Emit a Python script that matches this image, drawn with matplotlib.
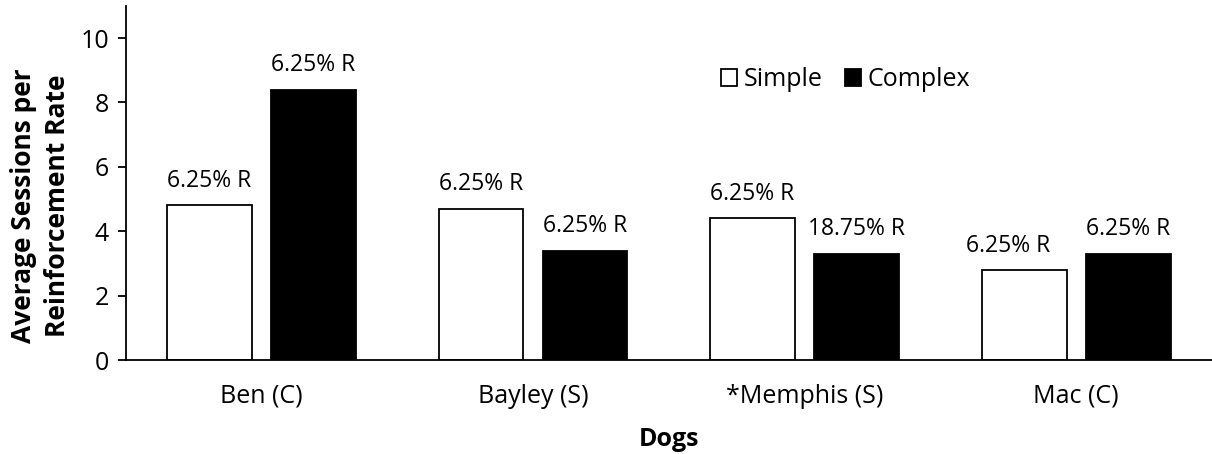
import matplotlib
matplotlib.use("Agg")
import matplotlib.pyplot as plt
import numpy as np

dogs = ["Ben (C)", "Bayley (S)", "*Memphis (S)", "Mac (C)"]
simple = [4.8, 4.7, 4.4, 2.8]
complex_ = [8.4, 3.4, 3.3, 3.3]
simple_labels = ["6.25% R", "6.25% R", "6.25% R", "6.25% R"]
complex_labels = ["6.25% R", "6.25% R", "18.75% R", "6.25% R"]

plt.rcParams['font.family'] = ['Open Sans', 'DejaVu Sans']

fig = plt.figure(figsize=(12.12, 4.54), dpi=100)
ax = fig.add_axes([0.1037, 0.207, 0.8963, 0.780])

x = np.arange(len(dogs))
w = 0.312
off = 0.1915
b1 = ax.bar(x - off, simple, w, color='white', edgecolor='black', linewidth=1.3, label='Simple')
b2 = ax.bar(x + off, complex_, w, color='black', edgecolor='black', linewidth=1.3, label='Complex')

lab_fs = 16.5
for i, (r, lab) in enumerate(zip(b1, simple_labels)):
    dx = -11.5 if i == 3 else 0
    ax.annotate(lab, (r.get_x() + r.get_width() / 2, r.get_height()),
                xytext=(dx, 17.5), textcoords='offset points', ha='center', va='center', fontsize=lab_fs)
for r, lab in zip(b2, complex_labels):
    ax.annotate(lab, (r.get_x() + r.get_width() / 2, r.get_height()),
                xytext=(0, 17.5), textcoords='offset points', ha='center', va='center', fontsize=lab_fs)

ax.set_xlim(-0.5, len(dogs) - 0.5)
ax.set_ylim(0, 11)
ax.set_yticks([0, 2, 4, 6, 8, 10])
ax.set_xticks(x)
ax.set_xticklabels(dogs, fontsize=18)
ax.tick_params(axis='y', labelsize=18, length=6, width=1.3, direction='out', pad=6)
ax.tick_params(axis='x', length=0, pad=17)
for s in ['top', 'right']:
    ax.spines[s].set_visible(False)
ax.spines['left'].set_linewidth(1.3)
ax.spines['bottom'].set_linewidth(1.3)

ax.text(-0.0785, 0.435, "Average Sessions per\nReinforcement Rate", transform=ax.transAxes,
        rotation=90, ha='center', va='center', fontsize=19, fontweight='bold', linespacing=1.3)
ax.text(0.5, -0.225, "Dogs", transform=ax.transAxes, ha='center', va='center',
        fontsize=18, fontweight='bold')

leg = ax.legend(loc='center', bbox_to_anchor=(0.6626, 0.791), ncol=2, frameon=False, fontsize=18,
                handlelength=0.65, handleheight=0.65, handletextpad=0.25, columnspacing=0.9,
                borderpad=0, borderaxespad=0)

fig.savefig("out.png", dpi=100)
